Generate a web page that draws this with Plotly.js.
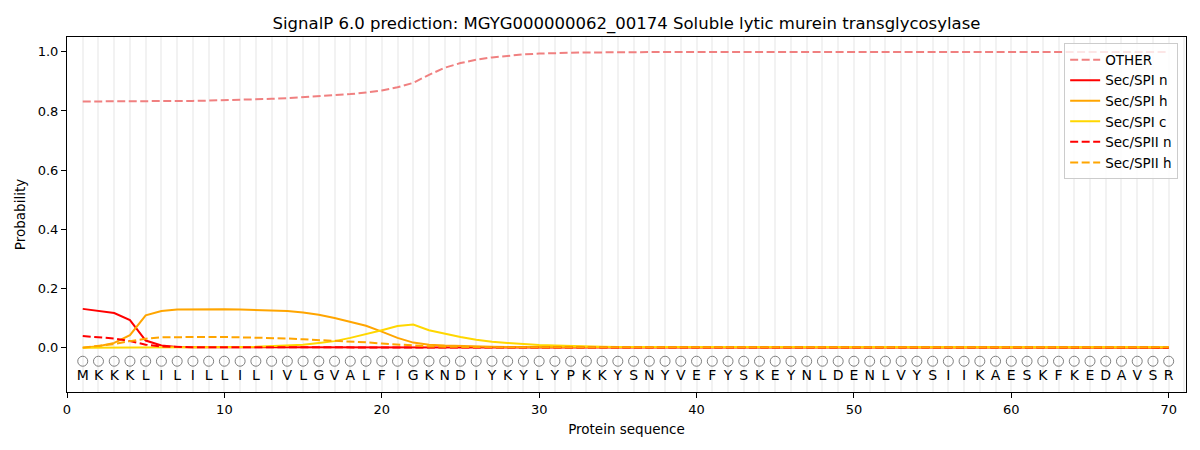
<!DOCTYPE html>
<html>
<head>
<meta charset="utf-8">
<script src="https://cdn.plot.ly/plotly-3.0.1.min.js"></script>
<style>html,body{margin:0;padding:0;background:#fff;}#chart{width:1200px;height:450px;}</style>
</head>
<body>
<div id="chart"></div>
<script>
const sequence = "MKKKLILILLILIVLGVALFIGKNDIYKYLYPKKYSNYVEFYSKEYNLDENLVYSIIKAESKFKEDAVSR".split("");
const positions = sequence.map((_, i) => i + 1);

const other = [
  0.832,0.832,0.832,0.832,0.832,0.833,0.833,0.834,0.835,0.836,
  0.838,0.839,0.841,0.843,0.846,0.849,0.853,0.857,0.862,0.869,
  0.880,0.895,0.922,0.946,0.962,0.973,0.981,0.987,0.991,0.994,
  0.996,0.997,0.998,0.998,0.999,0.999,0.999,0.999,0.999,1.000,
  1.000,1.000,1.000,1.000,1.000,1.000,1.000,1.000,1.000,1.000,
  1.000,1.000,1.000,1.000,1.000,1.000,1.000,1.000,1.000,1.000,
  0.999,0.999,0.999,0.999,0.999,0.999,0.999,0.999,0.999,0.999
];
const spiN = [
  0.131,0.125,0.117,0.093,0.024,0.007,0.002,0.001,0.001,0.001,
  0.001,0.001,0.001,0.001,0.001,0.001,0.001,0.001,0.001,0.001,
  0.000,0.000,0.000,0.000,0.000,0.000,0.000,0.000,0.000,0.000,
  0.000,0.000,0.000,0.000,0.000,0.000,0.000,0.000,0.000,0.000,
  0.000,0.000,0.000,0.000,0.000,0.000,0.000,0.000,0.000,0.000,
  0.000,0.000,0.000,0.000,0.000,0.000,0.000,0.000,0.000,0.000,
  0.000,0.000,0.000,0.000,0.000,0.000,0.000,0.000,0.000,0.000
];
const spiH = [
  0.000,0.005,0.016,0.042,0.109,0.124,0.129,0.130,0.130,0.130,
  0.129,0.128,0.127,0.124,0.119,0.111,0.100,0.088,0.074,0.054,
  0.033,0.017,0.010,0.007,0.005,0.004,0.003,0.002,0.002,0.001,
  0.001,0.001,0.001,0.001,0.001,0.001,0.001,0.001,0.001,0.001,
  0.001,0.001,0.001,0.001,0.001,0.001,0.001,0.001,0.001,0.001,
  0.001,0.001,0.001,0.001,0.001,0.001,0.001,0.001,0.001,0.001,
  0.001,0.001,0.001,0.001,0.001,0.001,0.001,0.001,0.001,0.001
];
const spiC = [
  0.000,0.000,0.000,0.000,0.001,0.001,0.001,0.001,0.001,0.002,
  0.002,0.003,0.005,0.007,0.010,0.016,0.022,0.033,0.045,0.059,
  0.073,0.078,0.059,0.047,0.036,0.027,0.020,0.016,0.012,0.009,
  0.007,0.005,0.004,0.003,0.002,0.002,0.001,0.001,0.001,0.001,
  0.001,0.001,0.001,0.001,0.001,0.001,0.001,0.001,0.001,0.001,
  0.001,0.001,0.001,0.001,0.001,0.001,0.001,0.001,0.001,0.001,
  0.001,0.001,0.001,0.001,0.001,0.001,0.001,0.001,0.001,0.001
];
const spiiN = [
  0.039,0.036,0.031,0.022,0.010,0.004,0.002,0.001,0.001,0.001,
  0.001,0.001,0.001,0.001,0.001,0.001,0.001,0.001,0.001,0.001,
  0.001,0.001,0.000,0.000,0.000,0.000,0.000,0.000,0.000,0.000,
  0.000,0.000,0.000,0.000,0.000,0.000,0.000,0.000,0.000,0.000,
  0.000,0.000,0.000,0.000,0.000,0.000,0.000,0.000,0.000,0.000,
  0.000,0.000,0.000,0.000,0.000,0.000,0.000,0.000,0.000,0.000,
  0.000,0.000,0.000,0.000,0.000,0.000,0.000,0.000,0.000,0.000
];
const spiiH = [
  0.000,0.005,0.012,0.022,0.030,0.035,0.036,0.036,0.036,0.036,
  0.035,0.034,0.033,0.031,0.028,0.026,0.023,0.021,0.018,0.014,
  0.010,0.006,0.004,0.003,0.002,0.002,0.001,0.001,0.001,0.001,
  0.001,0.001,0.001,0.001,0.001,0.001,0.001,0.001,0.001,0.001,
  0.001,0.001,0.001,0.001,0.001,0.001,0.001,0.001,0.001,0.001,
  0.001,0.001,0.001,0.001,0.001,0.001,0.001,0.001,0.001,0.001,
  0.001,0.001,0.001,0.001,0.001,0.001,0.001,0.001,0.001,0.001
];
const xTicks = [0, 10, 20, 30, 40, 50, 60, 70];
const yTicks = [0.0, 0.2, 0.4, 0.6, 0.8, 1.0];

const FONT = "DejaVu Sans, sans-serif";
const DASH = "8px,3.5px";
const GRID = "#f2f2f2";
function line(y, name, color, dash) {
  return {x: positions, y: y, name: name, type: "scatter", mode: "lines",
          line: {color: color, width: 2, dash: dash}, hoverinfo: "skip"};
}
const traces = [
  line(other, "OTHER", "#f08080", DASH),
  line(spiN, "Sec/SPI n", "#ff0000", "solid"),
  line(spiH, "Sec/SPI h", "#ffa500", "solid"),
  line(spiC, "Sec/SPI c", "#ffd700", "solid"),
  line(spiiN, "Sec/SPII n", "#ff0000", DASH),
  line(spiiH, "Sec/SPII h", "#ffa500", DASH),
  {x: positions, y: positions.map(() => -0.046), type: "scatter", mode: "markers",
   marker: {symbol: "circle-open", size: 10, color: "#808080", line: {width: 1, color: "#808080"}},
   showlegend: false, hoverinfo: "skip"},
  {x: positions, y: positions.map(() => -0.097), type: "scatter", mode: "text",
   text: sequence, textposition: "middle center",
   textfont: {family: FONT, size: 14, color: "#000"},
   showlegend: false, hoverinfo: "skip"}
];

const layout = {
  width: 1200, height: 450,
  margin: {l: 67, r: 14, t: 37, b: 58},
  paper_bgcolor: "#fff", plot_bgcolor: "#fff",
  font: {family: FONT, size: 13, color: "#000"},
  title: {text: "SignalP 6.0 prediction: MGYG000000062_00174 Soluble lytic murein transglycosylase",
          font: {family: FONT, size: 16.5, color: "#000"}, x: 0.5, xref: "paper", y: 0.948, yanchor: "middle"},
  xaxis: {range: [0, 71.1], tickvals: xTicks, ticktext: xTicks.map(String),
          showgrid: true, gridcolor: GRID, gridwidth: 2,
          minor: {dtick: 1, tick0: 0, showgrid: true, gridcolor: GRID, gridwidth: 2, ticks: ""},
          zeroline: false, showline: true, mirror: true, linecolor: "#000", linewidth: 1,
          ticks: "outside", ticklen: 5, tickcolor: "#000", tickfont: {size: 13},
          title: {text: "Protein sequence", font: {size: 13.5}, standoff: 8}},
  yaxis: {range: [-0.15, 1.05], tickvals: yTicks, ticktext: yTicks.map(v => v.toFixed(1)),
          showgrid: false, zeroline: false, showline: true, mirror: true, linecolor: "#000", linewidth: 1,
          ticks: "outside", ticklen: 5, tickcolor: "#000", tickfont: {size: 13},
          title: {text: "Probability", font: {size: 13.5}, standoff: 8}},
  legend: {x: 0.993, xanchor: "right", y: 0.982, yanchor: "top",
           bgcolor: "rgba(255,255,255,0.8)", bordercolor: "#cccccc", borderwidth: 1,
           font: {family: FONT, size: 13.5}, tracegroupgap: 0, itemwidth: 30},
  showlegend: true
};

Plotly.newPlot("chart", traces, layout, {staticPlot: true, displayModeBar: false});
</script>
</body>
</html>
